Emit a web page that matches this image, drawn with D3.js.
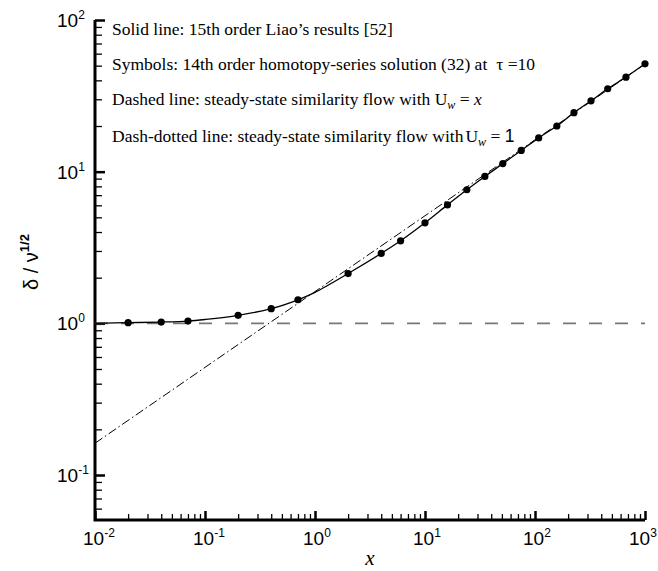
<!DOCTYPE html>
<html>
<head>
<meta charset="utf-8">
<script src="https://cdn.jsdelivr.net/npm/d3@7/dist/d3.min.js"></script>
<style>
  body { margin: 0; background: #fff; }
  .tick-label { font-family: "Liberation Sans", Arial, sans-serif; font-size: 19px; fill: #000; }
  .legend { font-family: "Liberation Serif", "Times New Roman", serif; font-size: 17.5px; fill: #000; }
</style>
</head>
<body>
<script>
// symbols: 14th order homotopy-series solution at tau = 10
var sym_x = [0.02, 0.04, 0.07, 0.2, 0.4, 0.7, 2, 4, 6, 10, 16, 24, 35, 51, 75, 108, 158, 226, 323, 458, 671, 1000];
var sym_y = [1.01, 1.02, 1.035, 1.13, 1.25, 1.43, 2.13, 2.89, 3.5, 4.6, 6.04, 7.6, 9.3, 11.3, 13.8, 16.7, 20, 24.5, 29.3, 35.2, 42, 51.4];

// solid line: 15th order Liao's results
var liao_x = [0.01, 0.02, 0.04, 0.07, 0.1, 0.2, 0.4, 0.7, 1, 2, 4, 6, 10, 16, 24, 35, 51, 75, 108, 158, 226, 323, 458, 671, 1000];
var liao_y = [1.0, 1.01, 1.02, 1.035, 1.06, 1.13, 1.25, 1.43, 1.6, 2.13, 2.89, 3.5, 4.6, 6.04, 7.6, 9.3, 11.3, 13.8, 16.7, 20, 24.5, 29.3, 35.2, 42, 51.4];

// dashed: steady-state similarity flow with Uw = x
var dashed_x = [0.01, 1000];
var dashed_y = [1, 1];

// dash-dotted: steady-state similarity flow with Uw = 1
var dashdot_x = [0.01, 1000];
var dashdot_y = [0.162, 51.2];

var x_major = [0.01, 0.1, 1, 10, 100, 1000];
var x_exp = ["-2", "-1", "0", "1", "2", "3"];
var y_major = [0.1, 1, 10, 100];
var y_exp = ["-1", "0", "1", "2"];

var W = 658, H = 571;
var margin = {left: 95, right: 13, top: 20, bottom: 51};

var svg = d3.select("body").append("svg")
    .attr("width", W)
    .attr("height", H);

var x = d3.scaleLog().domain([0.01, 1000]).range([margin.left, W - margin.right]);
var y = d3.scaleLog().domain([0.0505, 100]).range([H - margin.bottom, margin.top]);

function minors(lo, hi) {
    var out = [];
    for (var e = -3; e <= 3; e++) {
        for (var m = 2; m <= 9; m++) {
            var v = m * Math.pow(10, e);
            if (v >= lo && v <= hi) out.push(v);
        }
    }
    return out;
}

function zip(xs, ys) {
    return xs.map(function (d, i) { return [d, ys[i]]; });
}

// --- axes ---
var x0 = margin.left, y0 = H - margin.bottom;

svg.append("g")
    .attr("transform", "translate(0," + y0 + ")")
    .call(d3.axisBottom(x).tickValues(minors(0.01, 1000)).tickSize(-6).tickFormat("").tickSizeOuter(0))
    .call(function (g) { g.select(".domain").remove(); })
    .selectAll("line").attr("stroke-width", 1.3);

svg.append("g")
    .attr("transform", "translate(0," + y0 + ")")
    .call(d3.axisBottom(x).tickValues(x_major).tickSize(-9).tickFormat("").tickSizeOuter(0))
    .call(function (g) { g.select(".domain").remove(); })
    .selectAll("line").attr("stroke-width", 2.5);

svg.append("g")
    .attr("transform", "translate(" + x0 + ",0)")
    .call(d3.axisLeft(y).tickValues(minors(0.0505, 100)).tickSize(-7).tickFormat("").tickSizeOuter(0))
    .call(function (g) { g.select(".domain").remove(); })
    .selectAll("line").attr("stroke-width", 1.3);

svg.append("g")
    .attr("transform", "translate(" + x0 + ",0)")
    .call(d3.axisLeft(y).tickValues(y_major).tickSize(-10).tickFormat("").tickSizeOuter(0))
    .call(function (g) { g.select(".domain").remove(); })
    .selectAll("line").attr("stroke-width", 2.5);

// axis lines
svg.append("path")
    .attr("d", "M" + x0 + "," + y.range()[1] + "V" + y0 + "H" + x.range()[1])
    .attr("fill", "none")
    .attr("stroke", "#000")
    .attr("stroke-width", 3);

// tick labels (last one nudged so it stays inside the page)
x_major.forEach(function (v, i) {
    var shift = i === x_major.length - 1 ? -16 : -12;
    var t = svg.append("text")
        .attr("class", "tick-label")
        .attr("x", x(v) + shift)
        .attr("y", y0 + 25);
    t.append("tspan").text("10");
    t.append("tspan").attr("dy", -8).attr("font-size", 12).text(x_exp[i]);
});

y_major.forEach(function (v, i) {
    var t = svg.append("text")
        .attr("class", "tick-label")
        .attr("x", x0 - 38)
        .attr("y", y(v) + 7);
    t.append("tspan").text("10");
    t.append("tspan").attr("dy", -8).attr("font-size", 12).text(y_exp[i]);
});

// axis titles
svg.append("text")
    .attr("x", 370)
    .attr("y", 565)
    .attr("font-family", "Liberation Serif, serif")
    .attr("font-style", "italic")
    .attr("font-size", 21)
    .attr("text-anchor", "middle")
    .text("x");

var yl = svg.append("text")
    .attr("transform", "translate(38,262) rotate(-90)")
    .attr("font-family", "Liberation Sans, Arial, sans-serif")
    .attr("font-size", 20)
    .attr("text-anchor", "middle");
yl.append("tspan").text("\u03b4 / \u03bd");
yl.append("tspan").attr("dy", -9).attr("font-size", 13).attr("font-weight", "bold").text("1/2");

// --- data lines ---
var line = d3.line()
    .x(function (d) { return x(d[0]); })
    .y(function (d) { return y(d[1]); });

svg.append("path")
    .datum(zip(dashed_x, dashed_y))
    .attr("d", line)
    .attr("fill", "none")
    .attr("stroke", "#777")
    .attr("stroke-width", 1.6)
    .attr("stroke-dasharray", "13,13");

svg.append("path")
    .datum(zip(dashdot_x, dashdot_y))
    .attr("d", line)
    .attr("fill", "none")
    .attr("stroke", "#000")
    .attr("stroke-width", 1)
    .attr("stroke-dasharray", "9,3,1.5,3");

svg.append("path")
    .datum(zip(liao_x, liao_y))
    .attr("d", line.curve(d3.curveCatmullRom))
    .attr("fill", "none")
    .attr("stroke", "#000")
    .attr("stroke-width", 1.3);

svg.selectAll("circle.sym")
    .data(zip(sym_x, sym_y))
    .enter()
    .append("circle")
    .attr("class", "sym")
    .attr("cx", function (d) { return x(d[0]); })
    .attr("cy", function (d) { return y(d[1]); })
    .attr("r", 3.6)
    .attr("fill", "#000");

// --- legend text ---
var lx = 112;
svg.append("text").attr("class", "legend").attr("x", lx).attr("y", 35)
    .text("Solid line: 15th order Liao\u2019s results [52]");

var l2 = svg.append("text").attr("class", "legend").attr("x", lx).attr("y", 70);
l2.append("tspan").text("Symbols: 14th order homotopy-series solution (32) at");
l2.append("tspan").attr("dx", 9).text("\u03c4 =10");

var l3 = svg.append("text").attr("class", "legend").attr("x", lx).attr("y", 105);
l3.append("tspan").text("Dashed line: steady-state similarity flow with U");
l3.append("tspan").attr("dy", 4).attr("font-size", 12).attr("font-style", "italic").text("w");
l3.append("tspan").attr("dy", -4).text(" = ");
l3.append("tspan").attr("font-style", "italic").text("x");

var l4 = svg.append("text").attr("class", "legend").attr("x", lx).attr("y", 141.5);
l4.append("tspan").text("Dash-dotted line: steady-state similarity flow with");
l4.append("tspan").attr("dx", 2).text("U");
l4.append("tspan").attr("dy", 4).attr("font-size", 12).attr("font-style", "italic").text("w");
l4.append("tspan").attr("dy", -4).text(" = ");
l4.append("tspan").attr("font-family", "Liberation Sans, Arial, sans-serif").text("1");
</script>
</body>
</html>
